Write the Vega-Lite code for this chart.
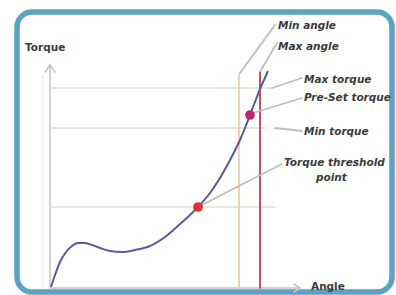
{
  "$schema": "https://vega.github.io/schema/vega-lite/v6.json",
  "width": 396,
  "height": 295,
  "autosize": {"type": "fit", "contains": "padding"},
  "padding": 0,
  "background": "white",
  "config": {"view": {"stroke": null}},
  "datasets": {
    "frame": [{"a1": 17, "a2": 392, "t1": 283, "t2": 3}],
    "rules": [
      {"kind": "shadow", "a1": 43, "a2": 43, "t1": 7, "t2": 220},
      {"kind": "axis", "a1": 50, "a2": 50, "t1": 7, "t2": 230},
      {"kind": "axis", "a1": 45, "a2": 50, "t1": 223, "t2": 230},
      {"kind": "axis", "a1": 55, "a2": 50, "t1": 223, "t2": 230},
      {"kind": "axis", "a1": 50, "a2": 300, "t1": 7, "t2": 7},
      {"kind": "axis", "a1": 294, "a2": 300, "t1": 11, "t2": 7},
      {"kind": "axis", "a1": 294, "a2": 300, "t1": 3, "t2": 7},
      {"kind": "hline", "a1": 50, "a2": 272, "t1": 207, "t2": 207},
      {"kind": "hline", "a1": 50, "a2": 265, "t1": 167, "t2": 167},
      {"kind": "hline", "a1": 50, "a2": 275, "t1": 88, "t2": 88},
      {"kind": "minangle", "a1": 239, "a2": 239, "t1": 7, "t2": 221},
      {"kind": "maxangle", "a1": 260, "a2": 260, "t1": 7, "t2": 223},
      {"kind": "leader", "a1": 240, "a2": 275, "t1": 222, "t2": 270},
      {"kind": "leader", "a1": 261, "a2": 277, "t1": 225, "t2": 252},
      {"kind": "leader", "a1": 272, "a2": 302, "t1": 207, "t2": 217},
      {"kind": "leader", "a1": 253, "a2": 302, "t1": 182, "t2": 197},
      {"kind": "leader", "a1": 275, "a2": 302, "t1": 167, "t2": 164},
      {"kind": "leader", "a1": 198, "a2": 282, "t1": 88, "t2": 131}
    ],
    "curve": [
      {"angle": 51, "torque": 8}, {"angle": 55, "torque": 20}, {"angle": 60, "torque": 33},
      {"angle": 66, "torque": 43}, {"angle": 72, "torque": 49}, {"angle": 78, "torque": 52},
      {"angle": 84, "torque": 52}, {"angle": 92, "torque": 50}, {"angle": 100, "torque": 47},
      {"angle": 110, "torque": 44}, {"angle": 122, "torque": 43}, {"angle": 135, "torque": 45},
      {"angle": 150, "torque": 49}, {"angle": 165, "torque": 58}, {"angle": 180, "torque": 71},
      {"angle": 190, "torque": 80}, {"angle": 198, "torque": 88}, {"angle": 210, "torque": 102},
      {"angle": 220, "torque": 117}, {"angle": 230, "torque": 135}, {"angle": 240, "torque": 155},
      {"angle": 245, "torque": 167}, {"angle": 250, "torque": 180}, {"angle": 255, "torque": 193},
      {"angle": 260, "torque": 206}, {"angle": 264, "torque": 215}, {"angle": 268, "torque": 224}
    ],
    "dots": [
      {"name": "threshold", "angle": 198, "torque": 88},
      {"name": "preset", "angle": 250, "torque": 180}
    ],
    "labels": [
      {"text": "Min angle", "a": 278, "t": 269},
      {"text": "Max angle", "a": 278, "t": 248},
      {"text": "Max torque", "a": 304, "t": 215},
      {"text": "Pre-Set torque", "a": 304, "t": 197},
      {"text": "Min torque", "a": 304, "t": 163},
      {"text": "Torque threshold", "a": 284, "t": 132},
      {"text": "point", "a": 316, "t": 117}
    ],
    "axislabels": [
      {"text": "Torque", "a": 25, "t": 247},
      {"text": "Angle", "a": 311, "t": 8}
    ]
  },
  "layer": [
    {
      "data": {"name": "frame"},
      "mark": {"type": "rect", "fill": "white", "stroke": "#5aa3c1", "strokeWidth": 5.5, "cornerRadius": 15},
      "encoding": {
        "x": {"field": "a1", "type": "quantitative", "scale": {"domain": [0, 396], "nice": false, "zero": false}, "axis": null},
        "x2": {"field": "a2"},
        "y": {"field": "t1", "type": "quantitative", "scale": {"domain": [0, 295], "nice": false, "zero": false}, "axis": null},
        "y2": {"field": "t2"}
      }
    },
    {
      "data": {"name": "rules"},
      "mark": {"type": "rule", "strokeCap": "round"},
      "encoding": {
        "x": {"field": "a1", "type": "quantitative"},
        "x2": {"field": "a2"},
        "y": {"field": "t1", "type": "quantitative"},
        "y2": {"field": "t2"},
        "color": {"field": "kind", "type": "nominal", "legend": null,
          "scale": {"domain": ["shadow", "axis", "hline", "minangle", "maxangle", "leader"],
                    "range": ["#eeeeee", "#c4c4c4", "#deded2", "#f1c9a2", "#bb3450", "#bdbdbd"]}},
        "strokeWidth": {"field": "kind", "type": "nominal", "legend": null,
          "scale": {"domain": ["shadow", "axis", "hline", "minangle", "maxangle", "leader"],
                    "range": [1.5, 1.8, 1.5, 1.6, 1.8, 1]}}
      }
    },
    {
      "data": {"name": "curve"},
      "mark": {"type": "line", "interpolate": "monotone", "color": "#575a9c", "strokeWidth": 2},
      "encoding": {
        "x": {"field": "angle", "type": "quantitative"},
        "y": {"field": "torque", "type": "quantitative"}
      }
    },
    {
      "data": {"name": "dots"},
      "mark": {"type": "circle", "size": 95, "opacity": 1},
      "encoding": {
        "x": {"field": "angle", "type": "quantitative"},
        "y": {"field": "torque", "type": "quantitative"},
        "fill": {"field": "name", "type": "nominal", "legend": null,
          "scale": {"domain": ["threshold", "preset"], "range": ["#e0312f", "#c4236f"]}}
      }
    },
    {
      "data": {"name": "labels"},
      "mark": {"type": "text", "align": "left", "baseline": "middle", "font": "DejaVu Sans", "fontSize": 10.5, "fontWeight": "bold", "fontStyle": "italic", "color": "#3a3a3a"},
      "encoding": {
        "x": {"field": "a", "type": "quantitative"},
        "y": {"field": "t", "type": "quantitative"},
        "text": {"field": "text"}
      }
    },
    {
      "data": {"name": "axislabels"},
      "mark": {"type": "text", "align": "left", "baseline": "middle", "font": "DejaVu Sans", "fontSize": 10.5, "fontWeight": "bold", "color": "#3a3a3a"},
      "encoding": {
        "x": {"field": "a", "type": "quantitative"},
        "y": {"field": "t", "type": "quantitative"},
        "text": {"field": "text"}
      }
    }
  ]
}
